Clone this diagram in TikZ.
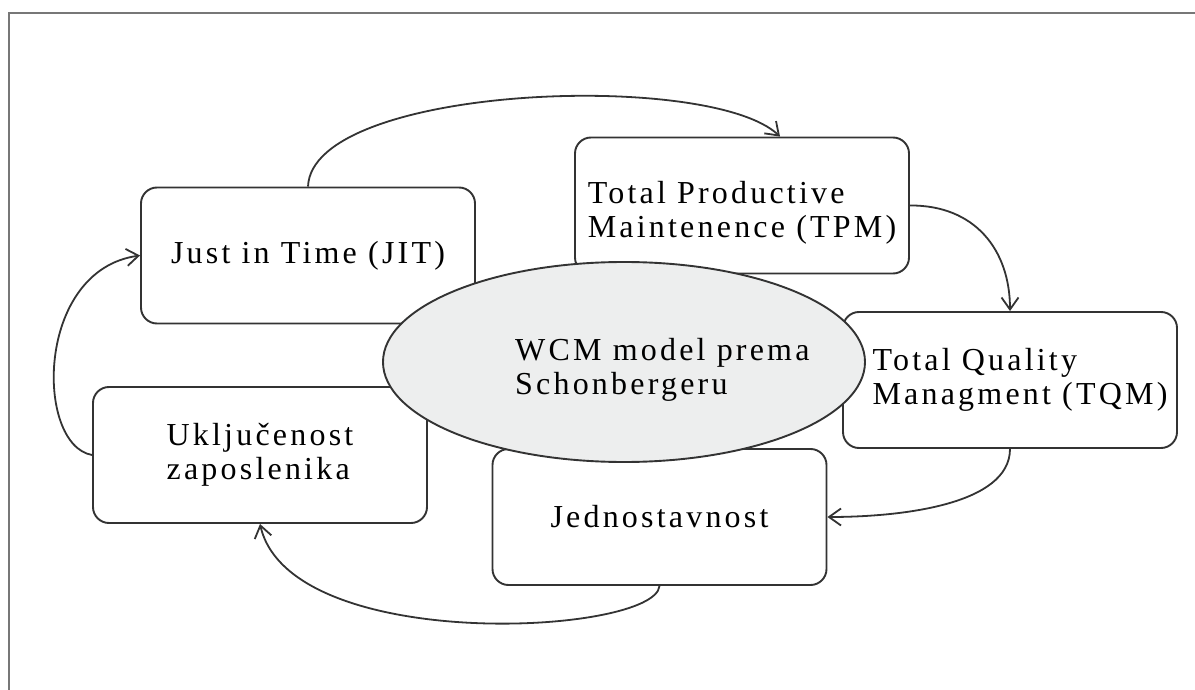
\documentclass[tikz,border=0pt]{standalone}
\usepackage{fontspec}
\setmainfont{Liberation Serif}[LetterSpace=10]
\usetikzlibrary{arrows.meta,calc,shapes.geometric}
\definecolor{lc}{HTML}{333333}
\definecolor{framec}{HTML}{777777}
\definecolor{ellc}{HTML}{EDEEEE}
\newcommand\fsz{\fontsize{32pt}{34pt}\selectfont}
\begin{document}
\begin{tikzpicture}[x=1pt,y=-1pt,
  box/.style={draw=lc, line width=1.9pt, rounded corners=16pt, minimum width=334pt, minimum height=136pt, inner sep=0pt, align=left, fill=white, font=\fsz},
  conn/.style={draw=lc, line width=1.8pt, -{Straight Barb[length=12pt,width=17pt,line width=1.8pt]}}]
\useasboundingbox (0,0) rectangle (1195,690);
\clip (0,0) rectangle (1195,690);
\fill[white] (0,0) rectangle (1195,690);
\draw[framec, line width=2pt] (9,720) -- (9,13) -- (1220,13);
% boxes
\node[box] (jit) at (308,255.5) {Just in Time (JIT)};
\node[box] (ukl) at (260,455) {Uključenost\\zaposlenika};
\node[box] (tpm) at (742,205.5) {\rule{0pt}{36pt}Total Productive\\Maintenence (TPM)};
\node[box] (tqm) at (1010,380) {\hspace*{20pt}Total Quality\\\hspace*{20pt}Managment (TQM)};
\node[box] (jed) at (659.5,517) {Jednostavnost};
% centre ellipse
\node[ellipse, draw=lc, line width=1.9pt, fill=ellc, minimum width=482pt, minimum height=200pt, inner sep=0pt] (wcm) at (624,362) {};
\node[anchor=north west, inner sep=0pt, align=left, font=\fsz] (wcmt) at (515,338) {WCM model prema\\Schonbergeru};
% connectors
\draw[conn] (jit.north) .. controls (312,85) and (710,70) .. ($(tpm.north)+(38,0)$);
\draw[conn] (tpm.east) .. controls (975,205) and (1010,250) .. (tqm.north);
\draw[conn] (tqm.south) .. controls (1010,505) and (900,517) .. (jed.east);
\draw[conn] (jed.south) .. controls (655,635) and (290,655) .. (ukl.south);
\draw[conn] (ukl.west) .. controls (35,445) and (35,270) .. (jit.west);
\end{tikzpicture}
\end{document}
